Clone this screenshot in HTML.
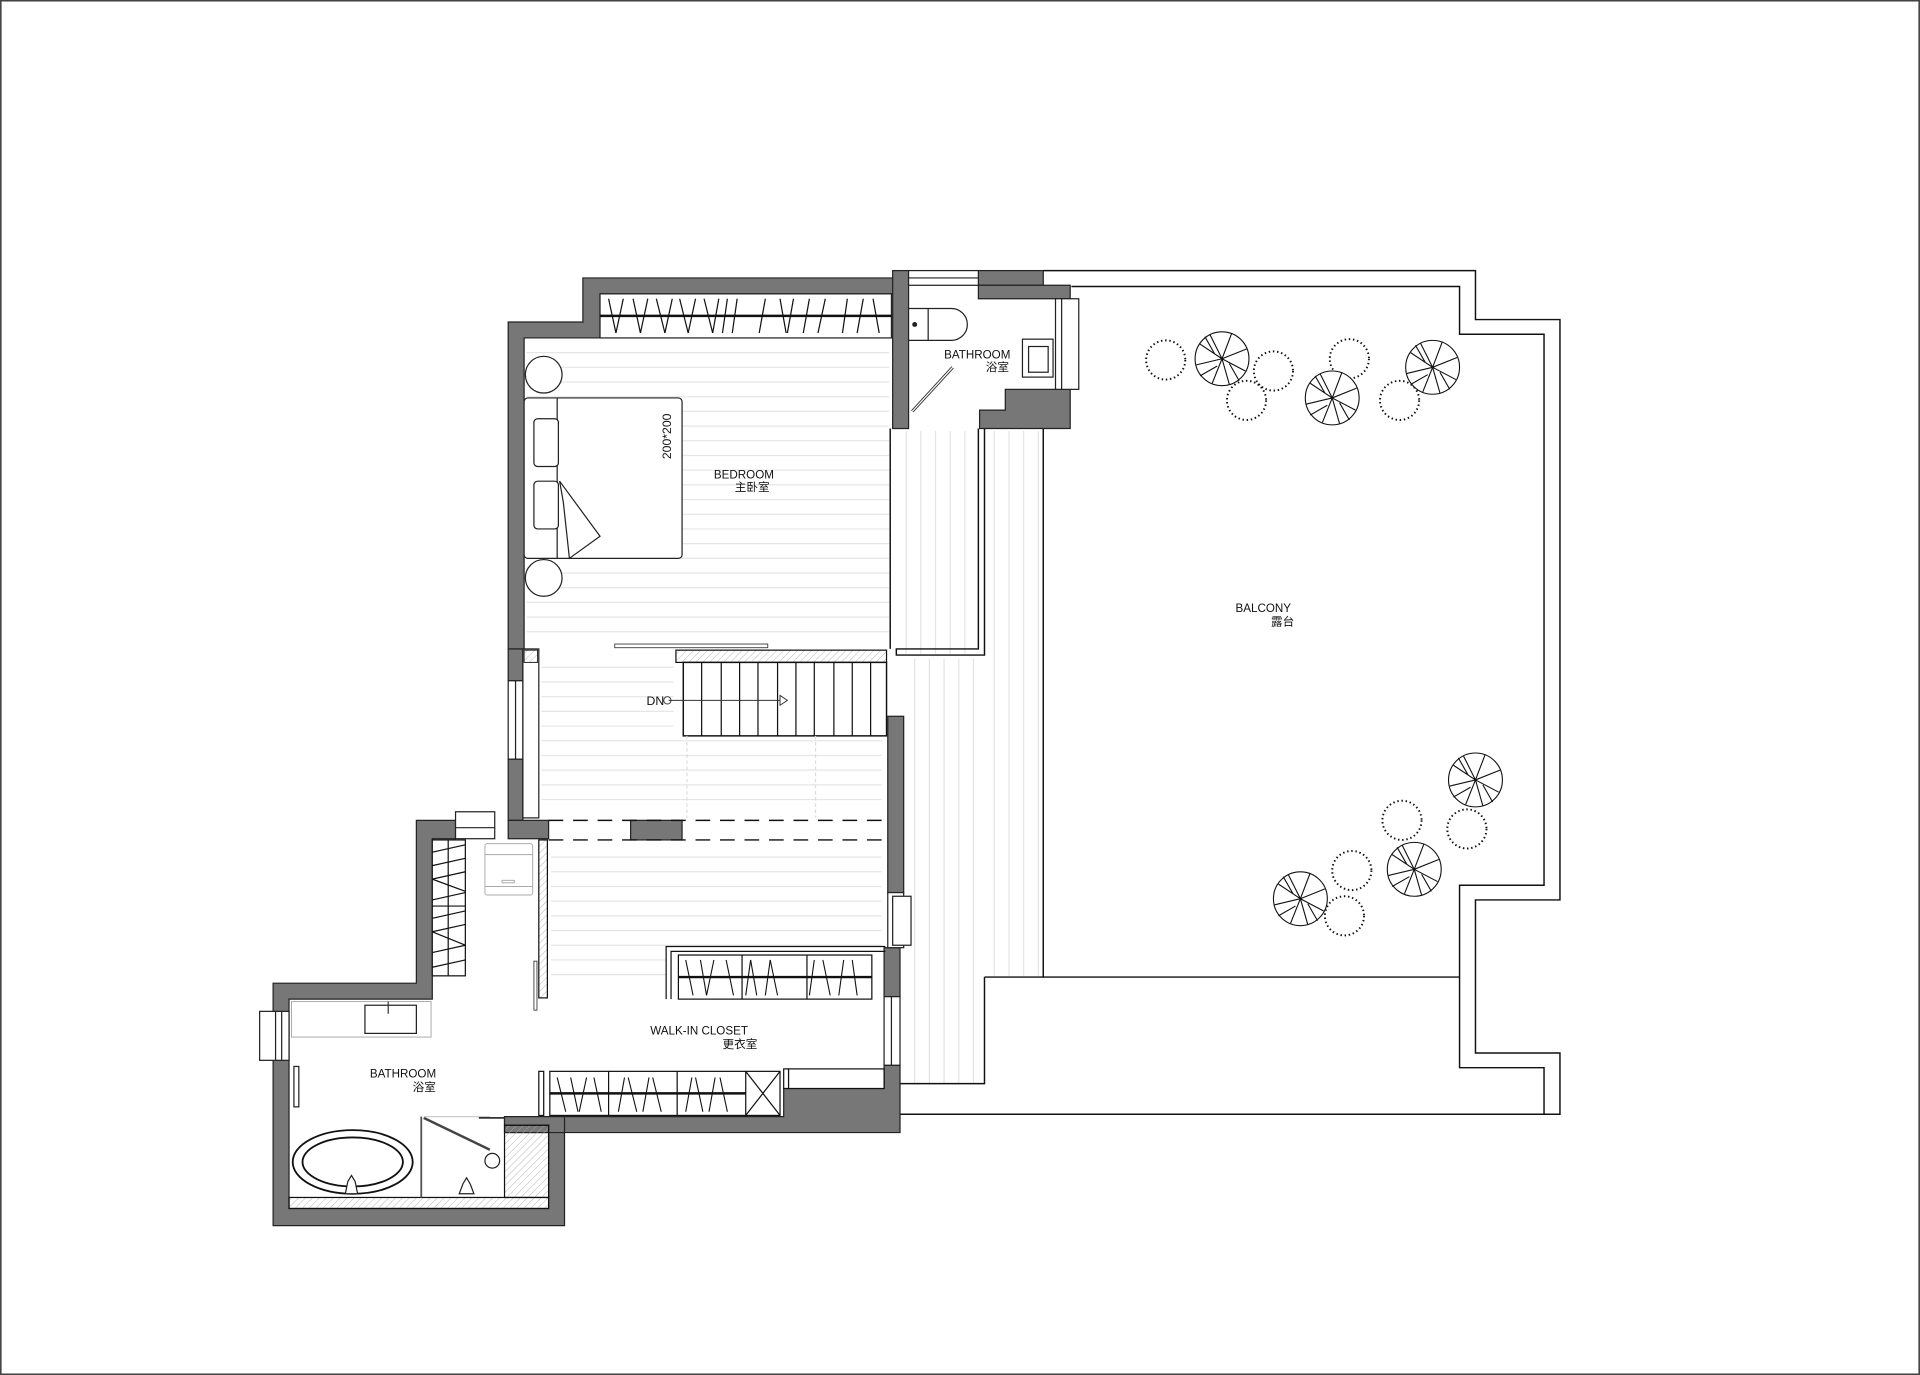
<!DOCTYPE html>
<html><head><meta charset="utf-8">
<style>
html,body{margin:0;padding:0;background:#fff;}
svg{display:block;}
text{font-family:"Liberation Sans","Noto Sans CJK SC",sans-serif;fill:#111;}
</style></head>
<body>
<svg width="1920" height="1375" viewBox="0 0 1568 1123" xmlns="http://www.w3.org/2000/svg">
<defs>
<pattern id="hatch" width="4" height="4" patternUnits="userSpaceOnUse" patternTransform="rotate(45)">
<line x1="0" y1="0" x2="0" y2="4" stroke="#aaa" stroke-width="0.7"/>
</pattern>
</defs>
<rect x="0.5" y="0.5" width="1567" height="1122" fill="#fff" stroke="#444" stroke-width="1.5"/>

<!-- floor boards bedroom -->
<g stroke="#e6e6e6" stroke-width="1">
<line x1="430" y1="288" x2="726" y2="288"/><line x1="430" y1="300" x2="726" y2="300"/><line x1="430" y1="312" x2="726" y2="312"/><line x1="430" y1="324" x2="726" y2="324"/><line x1="430" y1="336" x2="726" y2="336"/><line x1="430" y1="348" x2="726" y2="348"/><line x1="430" y1="360" x2="726" y2="360"/><line x1="430" y1="372" x2="726" y2="372"/><line x1="430" y1="384" x2="726" y2="384"/><line x1="430" y1="396" x2="726" y2="396"/><line x1="430" y1="408" x2="726" y2="408"/><line x1="430" y1="420" x2="726" y2="420"/><line x1="430" y1="432" x2="726" y2="432"/><line x1="430" y1="444" x2="726" y2="444"/><line x1="430" y1="456" x2="726" y2="456"/><line x1="430" y1="468" x2="726" y2="468"/><line x1="430" y1="480" x2="726" y2="480"/><line x1="430" y1="492" x2="726" y2="492"/><line x1="430" y1="504" x2="726" y2="504"/><line x1="430" y1="516" x2="726" y2="516"/>
<line x1="442" y1="545" x2="550" y2="545"/><line x1="442" y1="557" x2="550" y2="557"/><line x1="442" y1="569" x2="550" y2="569"/><line x1="442" y1="581" x2="550" y2="581"/><line x1="442" y1="593" x2="550" y2="593"/><line x1="442" y1="605" x2="720" y2="605"/><line x1="442" y1="617" x2="720" y2="617"/><line x1="442" y1="629" x2="720" y2="629"/><line x1="442" y1="641" x2="720" y2="641"/><line x1="442" y1="653" x2="720" y2="653"/>
<line x1="450" y1="700" x2="720" y2="700"/><line x1="450" y1="712" x2="720" y2="712"/><line x1="450" y1="724" x2="720" y2="724"/><line x1="450" y1="736" x2="720" y2="736"/><line x1="450" y1="748" x2="720" y2="748"/><line x1="450" y1="760" x2="720" y2="760"/><line x1="450" y1="772" x2="720" y2="772"/><line x1="450" y1="784" x2="544" y2="784"/><line x1="450" y1="796" x2="544" y2="796"/>
</g>
<!-- deck boards -->
<g stroke="#e4e4e4" stroke-width="1">
<line x1="740" y1="352" x2="740" y2="534"/><line x1="752" y1="352" x2="752" y2="534"/><line x1="764" y1="352" x2="764" y2="534"/><line x1="776" y1="352" x2="776" y2="534"/><line x1="788" y1="352" x2="788" y2="534"/>
<line x1="747" y1="538" x2="747" y2="885"/><line x1="759" y1="538" x2="759" y2="885"/><line x1="771" y1="538" x2="771" y2="885"/><line x1="783" y1="538" x2="783" y2="885"/><line x1="795" y1="538" x2="795" y2="885"/>
<line x1="812" y1="352" x2="812" y2="797"/><line x1="824" y1="352" x2="824" y2="797"/><line x1="836" y1="352" x2="836" y2="797"/><line x1="848" y1="352" x2="848" y2="797"/>
</g>

<!-- balcony outlines -->
<g fill="none" stroke="#111" stroke-width="1.2">
<polyline points="852,221 1205,221 1205,261 1274,261 1274,735 1205,735 1205,860 1274,860 1274,910 735,910"/>
<polyline points="875,234 1192,234 1192,273 1261,273 1261,723 1192,723 1192,872 1261,872 1261,910"/>
<polyline points="852,350 852,798 1192,798"/>
<polyline points="804,798 852,798"/>
<polyline points="804,798 804,885 735,885"/>
<polyline points="799,350 799,530 732,530 732,535 804,535 804,350"/>
<line x1="727" y1="350" x2="727" y2="530"/>
</g>

<!-- WALLS -->
<g fill="#777" stroke="#222" stroke-width="1">
<!-- bedroom walls -->
<polygon points="415,263 476,263 476,227 741,227 741,240 490,240 490,276 428,276 428,530 415,530"/>
<rect x="415" y="530" width="12" height="26"/>
<rect x="415" y="620" width="12" height="50"/>
<!-- bath top -->
<rect x="729" y="221" width="13" height="129"/>
<rect x="799" y="221" width="53" height="12"/>
<polygon points="799,233 874,233 874,244 799,244"/>
<polygon points="821,318 874,318 874,350 800,350 800,335 821,335"/>
<!-- right wall of bedroom/closet -->
<rect x="725" y="585" width="13" height="144"/>
<rect x="722" y="774" width="13" height="40"/>
<polygon points="722,870 735,870 735,925 412,925 412,912 640,912 640,889 722,889"/>
<!-- mid walls -->
<rect x="415" y="670" width="33" height="15"/>
<rect x="515" y="670" width="42" height="16"/>
<!-- left bath -->
<polygon points="340,670 372,670 372,685 353,685 353,816 236,816 236,987 448,987 448,919 412,919 412,912 461,912 461,1001 223,1001 223,803 340,803"/>
</g>
<line x1="412" y1="925" x2="461" y2="925" stroke="#222"/>

<!-- windows -->
<g fill="#fff" stroke="#222" stroke-width="1">
<rect x="742" y="221" width="57" height="12"/><line x1="742" y1="227" x2="799" y2="227"/>
<rect x="862" y="244" width="12" height="74"/><rect x="867" y="244" width="14" height="74"/>
<rect x="415" y="556" width="12" height="64"/><line x1="421" y1="556" x2="421" y2="620"/>
<rect x="725" y="729" width="13" height="45"/><rect x="729" y="732" width="15" height="40"/>
<rect x="722" y="814" width="13" height="56"/><line x1="728" y1="814" x2="728" y2="870"/>
<rect x="372" y="663" width="32" height="22"/><line x1="372" y1="676" x2="404" y2="676"/>
<rect x="212" y="826" width="24" height="40"/><line x1="225" y1="826" x2="225" y2="866"/><line x1="230" y1="826" x2="230" y2="866"/>
<rect x="427" y="530" width="13" height="138"/>
</g>
<rect x="428" y="531" width="11" height="10" fill="url(#hatch)" stroke="#222" stroke-width="0.8"/>

<!-- wardrobe top -->
<rect x="490" y="240" width="238" height="36" fill="#fff" stroke="#222"/>
<line x1="490" y1="258" x2="728" y2="258" stroke="#111" stroke-width="2"/>
<g stroke="#111" stroke-width="1">
<line x1="497" y1="244" x2="503" y2="272"/><line x1="509" y1="244" x2="503" y2="272"/>
<line x1="517" y1="244" x2="523" y2="272"/><line x1="529" y1="244" x2="523" y2="272"/>
<line x1="536" y1="244" x2="543" y2="272"/><line x1="549" y1="244" x2="543" y2="272"/>
<line x1="555" y1="244" x2="562" y2="272"/><line x1="568" y1="244" x2="562" y2="272"/>
<line x1="575" y1="244" x2="582" y2="272"/><line x1="587" y1="244" x2="582" y2="272"/>
<line x1="594" y1="244" x2="590" y2="272"/><line x1="602" y1="244" x2="598" y2="272"/>
<line x1="625" y1="244" x2="620" y2="272"/><line x1="637" y1="244" x2="642" y2="272"/>
<line x1="648" y1="244" x2="643" y2="272"/><line x1="661" y1="244" x2="656" y2="272"/>
<line x1="674" y1="244" x2="668" y2="272"/><line x1="692" y1="244" x2="688" y2="272"/>
<line x1="705" y1="244" x2="700" y2="272"/><line x1="713" y1="244" x2="718" y2="272"/>
</g>

<!-- bed -->
<g fill="#fff" stroke="#222" stroke-width="1">
<circle cx="444" cy="306" r="15"/>
<circle cx="444" cy="472" r="15"/>
<rect x="428" y="325" width="129" height="131" rx="3"/>
<line x1="455" y1="325" x2="455" y2="456"/>
<rect x="436" y="342" width="20" height="39" rx="3"/>
<rect x="436" y="393" width="20" height="39" rx="3"/>
<polygon points="457,393 490,438 465,456 460,410"/>
</g>
<text x="548" y="375" font-size="10" transform="rotate(-90 548 375)" >200*200</text>

<!-- stairs -->
<rect x="552" y="531" width="172" height="10" fill="url(#hatch)" stroke="#111" stroke-width="1"/>
<rect x="558" y="541" width="166" height="60" fill="#fff" stroke="#111" stroke-width="1.2"/>
<g stroke="#111" stroke-width="1">
<line x1="573" y1="541" x2="573" y2="601"/><line x1="589" y1="541" x2="589" y2="601"/><line x1="604" y1="541" x2="604" y2="601"/><line x1="619" y1="541" x2="619" y2="601"/><line x1="635" y1="541" x2="635" y2="601"/><line x1="650" y1="541" x2="650" y2="601"/><line x1="665" y1="541" x2="665" y2="601"/><line x1="681" y1="541" x2="681" y2="601"/><line x1="696" y1="541" x2="696" y2="601"/><line x1="711" y1="541" x2="711" y2="601"/>
</g>
<line x1="546" y1="572" x2="640" y2="572" stroke="#333" stroke-width="0.8"/>
<circle cx="545" cy="572" r="3" fill="none" stroke="#333" stroke-width="0.8"/>
<polygon points="637,568 643,572 637,576" fill="#fff" stroke="#333" stroke-width="0.8"/>
<text x="528" y="576" font-size="10">DN</text>
<rect x="502" y="526" width="125" height="3" fill="#fff" stroke="#333" stroke-width="0.7"/>
<g stroke="#ddd" stroke-dasharray="3 2"><line x1="561" y1="601" x2="561" y2="668"/><line x1="666" y1="601" x2="666" y2="668"/></g>

<!-- dashed lines -->
<g stroke="#111" stroke-width="1.2" stroke-dasharray="12 8">
<line x1="448" y1="670" x2="722" y2="670"/>
<line x1="448" y1="686" x2="722" y2="686"/>
</g>

<!-- bath top fixtures -->
<g fill="#fff" stroke="#222" stroke-width="1">
<path d="M742,252 L777,252 A13,13 0 0 1 777,278 L742,278 Z"/>
<line x1="758" y1="252" x2="758" y2="278"/>
<rect x="835" y="277" width="25" height="31"/>
<rect x="840" y="283" width="16" height="21"/>
</g>
<circle cx="747" cy="265" r="2" fill="#222"/>
<line x1="745" y1="336" x2="778" y2="300" stroke="#333" stroke-width="2.5"/>
<line x1="745" y1="336" x2="778" y2="300" stroke="#fff" stroke-width="1"/>

<!-- lower closet -->
<g fill="none" stroke="#111" stroke-width="1">
<polyline points="544,816 544,773 723,773"/><polyline points="548,816 548,777 723,777"/>
<rect x="554" y="780" width="158" height="36" fill="#fff"/>
<line x1="606" y1="780" x2="606" y2="816"/><line x1="659" y1="780" x2="659" y2="816"/>
<rect x="449" y="875" width="188" height="36" fill="#fff"/>
<line x1="497" y1="875" x2="497" y2="911"/><line x1="553" y1="875" x2="553" y2="911"/><line x1="609" y1="875" x2="609" y2="911"/>
<line x1="609" y1="875" x2="637" y2="911"/><line x1="637" y1="875" x2="609" y2="911"/>
<rect x="640" y="873" width="4" height="16" fill="#fff"/>
<rect x="644" y="873" width="78" height="16" fill="#fff"/>
<rect x="440" y="875" width="4" height="36" fill="#fff"/>
</g>
<line x1="554" y1="798" x2="712" y2="798" stroke="#111" stroke-width="2"/>
<line x1="449" y1="893" x2="609" y2="893" stroke="#111" stroke-width="2"/>
<g stroke="#111" stroke-width="0.9">
<line x1="560" y1="784" x2="566" y2="813"/><line x1="572" y1="784" x2="577" y2="813"/><line x1="583" y1="784" x2="577" y2="813"/><line x1="593" y1="784" x2="599" y2="813"/>
<line x1="613" y1="784" x2="609" y2="813"/><line x1="613" y1="784" x2="618" y2="813"/><line x1="629" y1="784" x2="625" y2="813"/><line x1="629" y1="784" x2="635" y2="813"/>
<line x1="665" y1="784" x2="661" y2="813"/><line x1="672" y1="784" x2="678" y2="813"/><line x1="689" y1="784" x2="685" y2="813"/><line x1="696" y1="784" x2="700" y2="813"/>
<line x1="455" y1="880" x2="462" y2="908"/><line x1="466" y1="880" x2="472" y2="908"/><line x1="479" y1="880" x2="473" y2="908"/><line x1="485" y1="880" x2="491" y2="908"/>
<line x1="510" y1="880" x2="505" y2="908"/><line x1="513" y1="880" x2="520" y2="908"/><line x1="530" y1="880" x2="525" y2="908"/><line x1="533" y1="880" x2="540" y2="908"/>
<line x1="565" y1="880" x2="560" y2="908"/><line x1="568" y1="880" x2="574" y2="908"/><line x1="584" y1="880" x2="579" y2="908"/><line x1="588" y1="880" x2="594" y2="908"/>
</g>

<!-- left bath upper: shelves, washer, partition -->
<rect x="353" y="686" width="27" height="111" fill="#fff" stroke="#111" stroke-width="1"/>
<g stroke="#111" stroke-width="1">
<line x1="366" y1="686" x2="366" y2="797"/><line x1="353" y1="740" x2="380" y2="740"/>
<line x1="353" y1="696" x2="380" y2="690"/><line x1="353" y1="707" x2="380" y2="701"/><line x1="353" y1="718" x2="380" y2="712"/><line x1="353" y1="718" x2="380" y2="728"/><line x1="353" y1="735" x2="380" y2="729"/>
<line x1="353" y1="750" x2="380" y2="744"/><line x1="353" y1="761" x2="380" y2="755"/><line x1="353" y1="761" x2="380" y2="772"/><line x1="353" y1="778" x2="380" y2="772"/><line x1="353" y1="790" x2="380" y2="784"/>
</g>
<g fill="#fff" stroke="#aaa" stroke-width="0.8">
<rect x="396" y="689" width="39" height="42" rx="2"/><line x1="396" y1="698" x2="435" y2="698"/><line x1="396" y1="724" x2="435" y2="724"/><rect x="410" y="719" width="10" height="2"/>
</g>
<rect x="440" y="686" width="7" height="129" fill="url(#hatch)" stroke="#111" stroke-width="1"/>
<rect x="436" y="785" width="2.5" height="40" fill="#fff" stroke="#333" stroke-width="0.7"/>

<!-- left bath lower fixtures -->
<rect x="238" y="818" width="114" height="29" fill="#fff" stroke="#aaa" stroke-width="0.8"/>
<rect x="298" y="821" width="42" height="23" fill="#fff" stroke="#222" stroke-width="1"/>
<line x1="317" y1="818" x2="317" y2="828" stroke="#333" stroke-width="1"/>
<rect x="240" y="871" width="4" height="33" fill="#fff" stroke="#222" stroke-width="1"/>
<ellipse cx="288" cy="949" rx="49" ry="26" fill="#fff" stroke="#111" stroke-width="1.5"/>
<ellipse cx="288" cy="949" rx="41" ry="20" fill="none" stroke="#111" stroke-width="1.5"/>
<path d="M282,975 L292,975 L290,965 L287,960 L284,965 Z" fill="#fff" stroke="#222"/>
<rect x="236" y="978" width="212" height="9" fill="url(#hatch)" stroke="#111" stroke-width="1"/>
<rect x="412" y="919" width="36" height="59" fill="url(#hatch)" stroke="#111" stroke-width="1"/>
<line x1="344" y1="912" x2="344" y2="978" stroke="#555" stroke-width="1.5"/>
<line x1="346" y1="913" x2="400" y2="939" stroke="#444" stroke-width="2"/>
<line x1="346" y1="912" x2="400" y2="912" stroke="#ccc"/>
<line x1="391" y1="913" x2="412" y2="913" stroke="#333" stroke-width="1.5"/>
<circle cx="402" cy="948" r="6" fill="#fff" stroke="#222"/>
<path d="M375,975 L387,975 L384,967 L381,962 L378,967 Z" fill="#fff" stroke="#222"/>

<!-- trees -->
<g fill="none" stroke="#111" stroke-width="1.6" stroke-dasharray="1.2 2.2">
<circle cx="952" cy="294" r="16"/><circle cx="1040" cy="303" r="16"/><circle cx="1018" cy="327" r="16"/><circle cx="1102" cy="293" r="16"/><circle cx="1143" cy="327" r="16"/>
<circle cx="1145" cy="670" r="16"/><circle cx="1198" cy="677" r="16"/><circle cx="1104" cy="711" r="16"/><circle cx="1098" cy="748" r="16"/>
</g>
<g fill="#fff" stroke="#111" stroke-width="0.9">
<g transform="translate(998,293)"><circle r="22"/><path d="M0,0 L-18,-12 M0,0 L-10,-20 M0,0 L8,-21 M0,0 L20,-8 M0,0 L19,10 M0,0 L6,21 M0,0 L-8,20 M0,0 L-21,5 M-6,-4 L-14,-18 M6,4 L14,18 M-4,6 L-18,14"/></g>
<g transform="translate(1088,325)"><circle r="22"/><path d="M0,0 L-18,-12 M0,0 L-10,-20 M0,0 L8,-21 M0,0 L20,-8 M0,0 L19,10 M0,0 L6,21 M0,0 L-8,20 M0,0 L-21,5 M-6,-4 L-14,-18 M6,4 L14,18 M-4,6 L-18,14"/></g>
<g transform="translate(1170,300)"><circle r="22"/><path d="M0,0 L-18,-12 M0,0 L-10,-20 M0,0 L8,-21 M0,0 L20,-8 M0,0 L19,10 M0,0 L6,21 M0,0 L-8,20 M0,0 L-21,5 M-6,-4 L-14,-18 M6,4 L14,18 M-4,6 L-18,14"/></g>
<g transform="translate(1205,637)"><circle r="22"/><path d="M0,0 L-18,-12 M0,0 L-10,-20 M0,0 L8,-21 M0,0 L20,-8 M0,0 L19,10 M0,0 L6,21 M0,0 L-8,20 M0,0 L-21,5 M-6,-4 L-14,-18 M6,4 L14,18 M-4,6 L-18,14"/></g>
<g transform="translate(1155,710)"><circle r="22"/><path d="M0,0 L-18,-12 M0,0 L-10,-20 M0,0 L8,-21 M0,0 L20,-8 M0,0 L19,10 M0,0 L6,21 M0,0 L-8,20 M0,0 L-21,5 M-6,-4 L-14,-18 M6,4 L14,18 M-4,6 L-18,14"/></g>
<g transform="translate(1062,734)"><circle r="22"/><path d="M0,0 L-18,-12 M0,0 L-10,-20 M0,0 L8,-21 M0,0 L20,-8 M0,0 L19,10 M0,0 L6,21 M0,0 L-8,20 M0,0 L-21,5 M-6,-4 L-14,-18 M6,4 L14,18 M-4,6 L-18,14"/></g>
</g>

<!-- labels -->
<g font-size="9.5">
<text x="583" y="391">BEDROOM</text><text x="600" y="401">主卧室</text>
<text x="771" y="293">BATHROOM</text><text x="805" y="303">浴室</text>
<text x="1009" y="500">BALCONY</text><text x="1038" y="511">露台</text>
<text x="531" y="845">WALK-IN CLOSET</text><text x="590" y="856">更衣室</text>
<text x="302" y="880">BATHROOM</text><text x="337" y="891">浴室</text>
</g>
</svg>
</body></html>
